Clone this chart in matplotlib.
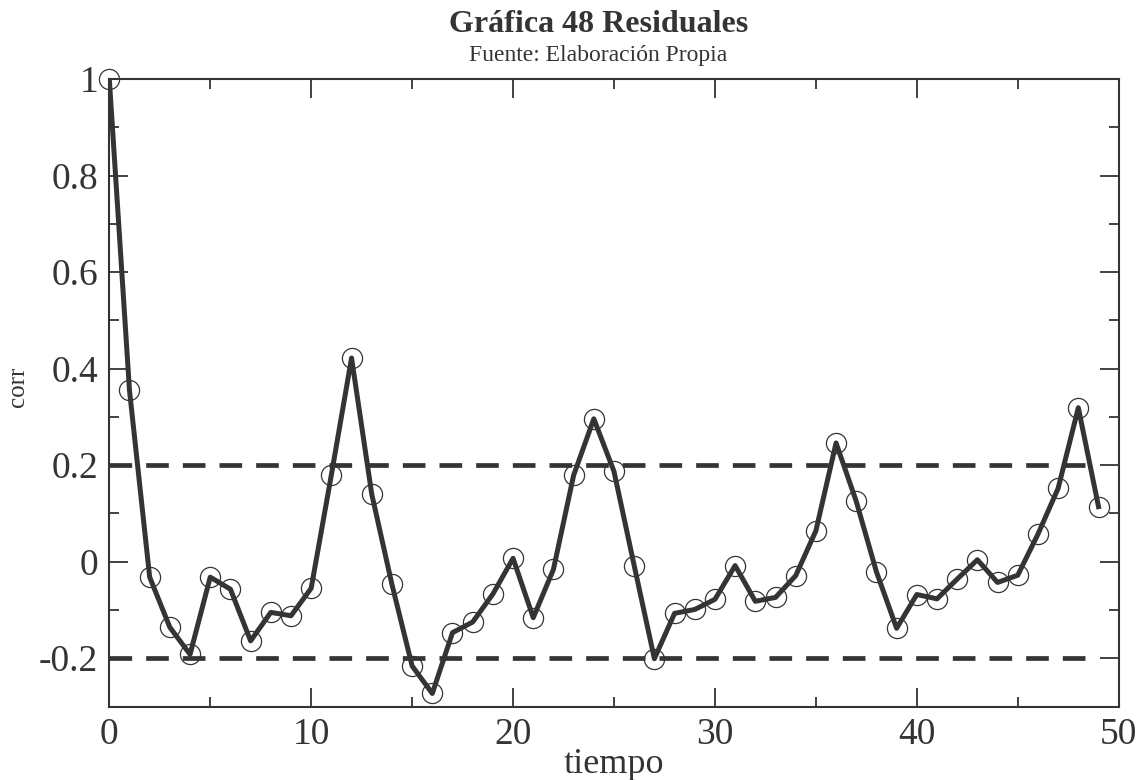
import matplotlib
matplotlib.use("Agg")
import matplotlib.pyplot as plt
from matplotlib.ticker import MultipleLocator, FuncFormatter

lags = list(range(50))
corr = [1.000, 0.355, -0.032, -0.136, -0.192, -0.032, -0.057, -0.164, -0.105, -0.112,
        -0.055, 0.180, 0.422, 0.140, -0.047, -0.216, -0.273, -0.147, -0.125, -0.067,
        0.007, -0.116, -0.016, 0.179, 0.296, 0.187, -0.008, -0.201, -0.107, -0.099,
        -0.078, -0.008, -0.082, -0.074, -0.029, 0.064, 0.246, 0.125, -0.021, -0.138,
        -0.068, -0.077, -0.036, 0.004, -0.043, -0.028, 0.057, 0.152, 0.319, 0.114]
band_upper = 0.2
band_lower = -0.2
band_x = [0, 49]

title = "Gráfica 48 Residuales"
subtitle = "Fuente: Elaboración Propia"
xlabel = "tiempo"
ylabel = "corr"

plt.rcParams['font.family'] = ['Liberation Serif', 'DejaVu Serif']
plt.rcParams['lines.scale_dashes'] = False
dark = '#343436'

fig = plt.figure(figsize=(11.43, 7.8), dpi=100)
ax = fig.add_axes([109.3/1143, 1-706.5/780, (1118.7-109.3)/1143, (706.5-79)/780])

for yv in (band_upper, band_lower):
    ax.plot(band_x, [yv]*2, color=dark, lw=3.4, dashes=(16.3, 10.1), solid_capstyle='butt',
            dash_capstyle='butt')
ax.plot(lags, corr, color=dark, lw=3.6, zorder=3)
ax.plot(lags, corr, ls='none', marker='o', ms=14.5, mfc='none', mec=dark, mew=0.9,
        zorder=4, clip_on=False)

ax.set_xlim(0, 50)
ax.set_ylim(-0.3, 1.0)
ax.xaxis.set_major_locator(MultipleLocator(10))
ax.xaxis.set_minor_locator(MultipleLocator(5))
ax.yaxis.set_major_locator(MultipleLocator(0.2))
ax.yaxis.set_minor_locator(MultipleLocator(0.1))

def fmt(v, pos):
    if abs(v) < 1e-9:
        return "0"
    if abs(v - round(v)) < 1e-9:
        return str(int(round(v)))
    return f"{v:.1f}"
ax.yaxis.set_major_formatter(FuncFormatter(fmt))
ax.xaxis.set_major_formatter(FuncFormatter(lambda v, p: str(int(round(v)))))

ax.tick_params(which='both', direction='in', top=True, right=True, color=dark, width=1.3)
ax.tick_params(which='major', length=14, labelsize=27, labelcolor=dark, pad=8)
ax.tick_params(which='minor', length=7)
for sp in ax.spines.values():
    sp.set_color(dark)
    sp.set_linewidth(1.5)

ax.set_xlabel(xlabel, fontsize=26, color=dark, labelpad=-3)
ax.set_ylabel(ylabel, fontsize=18, color=dark)
ax.yaxis.set_label_coords((29 - 109.3) / 1009.4, (706.5 - 387) / 627.5)

fig.text(599/1143, 1-31.5/780, title, ha='center', va='baseline', fontsize=23,
         fontweight='bold', color=dark)
fig.text(598/1143, 1-61.5/780, subtitle, ha='center', va='baseline', fontsize=17, color=dark)

fig.savefig('out.png', dpi=100, facecolor='white')
